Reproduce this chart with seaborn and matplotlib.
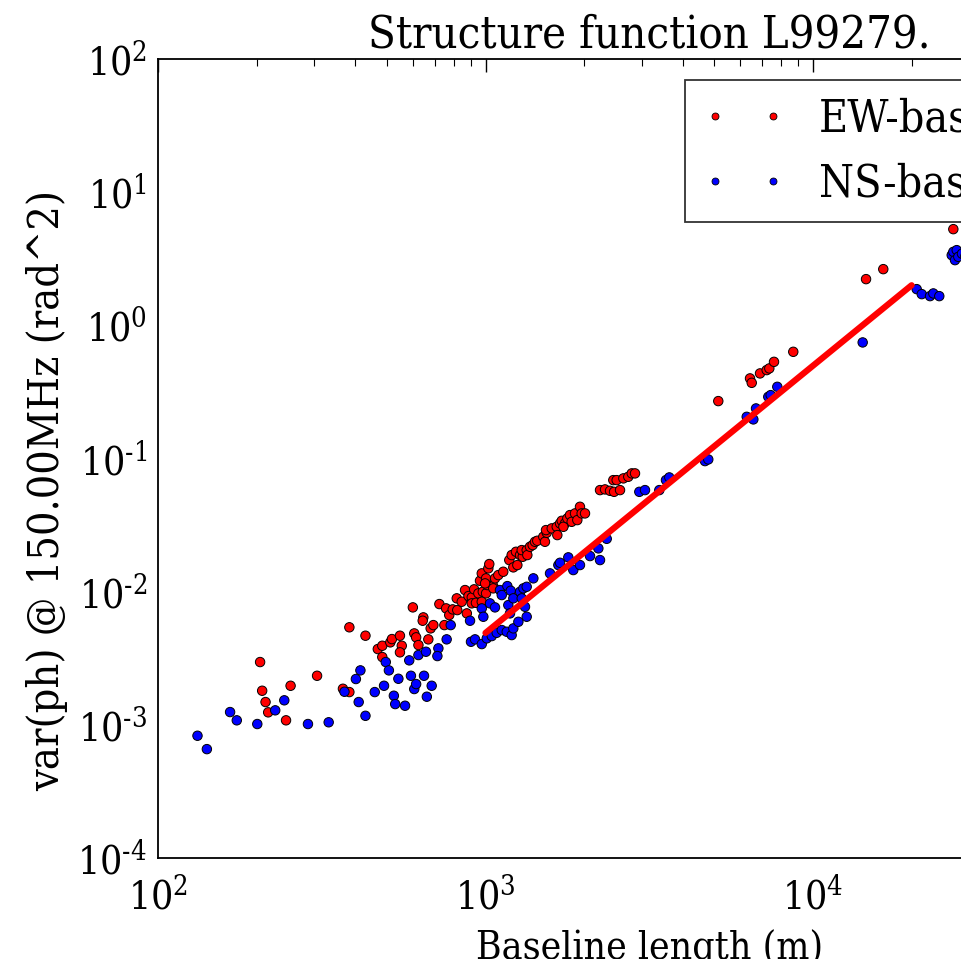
import numpy as np
import pandas as pd
import matplotlib
matplotlib.use("Agg")
import matplotlib.pyplot as plt
from matplotlib.lines import Line2D
from matplotlib.ticker import FuncFormatter
import seaborn as sns

# ---------------- data ----------------
ew_baseline = [205, 208, 213, 217, 246, 254, 306, 367, 384, 384, 430, 469, 484, 484,
               512, 518, 548, 555, 548, 600, 606, 614, 624, 646, 643, 669, 680, 693,
               749, 723, 758, 775, 794, 820, 817, 846, 866, 877, 887, 908, 923, 908,
               935, 951, 962, 974, 981, 1004, 1013, 1056, 974, 1004, 1020, 1027, 1056,
               1069, 1094, 1133, 997, 1182, 1202, 1216, 1251, 1239, 1275, 1299, 1290,
               1336, 1342, 1367, 1393, 1416, 1439, 1501, 1519, 1538, 1530, 1593, 1650,
               1657, 1689, 1709, 1749, 1729, 1778, 1811, 1833, 1876, 1907, 1943, 1966,
               2013, 2237, 2317, 2400, 2469, 2575, 2456, 2515, 2636, 2729, 2796, 2861,
               5138, 6422, 6500, 6890, 7220, 7356, 7602, 8705, 14520, 16390, 26820]
ew_var = [2.961e-3, 1.803e-3, 1.483e-3, 1.241e-3, 1.081e-3, 1.965e-3, 2.336e-3, 1.866e-3,
          1.762e-3, 5.40e-3, 4.67e-3, 3.707e-3, 3.925e-3, 3.228e-3, 4.162e-3, 4.406e-3,
          4.67e-3, 3.925e-3, 3.502e-3, 7.62e-3, 4.86e-3, 4.54e-3, 3.973e-3, 6.41e-3,
          6.05e-3, 4.384e-3, 5.30e-3, 5.61e-3, 5.61e-3, 8.07e-3, 7.49e-3, 6.67e-3,
          7.36e-3, 7.27e-3, 8.91e-3, 8.40e-3, 1.028e-2, 6.87e-3, 9.27e-3, 9.06e-3,
          1.041e-2, 8.17e-3, 8.25e-3, 9.71e-3, 1.207e-2, 8.40e-3, 9.98e-3, 9.71e-3,
          1.121e-2, 1.101e-2, 1.372e-2, 1.259e-2, 1.496e-2, 1.612e-2, 1.059e-2,
          1.259e-2, 1.332e-2, 1.411e-2, 1.154e-2, 1.727e-2, 1.883e-2, 1.522e-2,
          1.584e-2, 1.993e-2, 1.883e-2, 1.828e-2, 2.052e-2, 2.052e-2, 1.883e-2,
          2.173e-2, 2.238e-2, 2.369e-2, 2.411e-2, 2.584e-2, 2.369e-2, 2.768e-2,
          2.90e-2, 2.987e-2, 3.07e-2, 2.66e-2, 3.257e-2, 3.405e-2, 3.257e-2, 3.07e-2,
          3.55e-2, 3.759e-2, 3.347e-2, 3.87e-2, 3.447e-2, 4.34e-2, 3.87e-2, 3.87e-2,
          5.79e-2, 5.86e-2, 5.72e-2, 5.62e-2, 5.79e-2, 6.88e-2, 6.88e-2, 7.09e-2,
          7.29e-2, 7.73e-2, 7.73e-2, 0.2698, 0.3995, 0.3701, 0.4355, 0.4611, 0.4748,
          0.532, 0.6327, 2.223, 2.642, 5.275]

ns_baseline = [132, 141, 166, 174, 201, 228, 243, 287, 332, 371,
               402, 415, 410, 430, 459, 490, 496, 507, 525, 530,
               568, 542, 585, 592, 606, 614, 624, 649, 685, 662,
               658, 718, 713, 761, 783, 897, 903, 929, 974, 1009,
               1045, 1082, 1121, 1161, 1202, 1216, 1260, 974, 985, 1032,
               1069, 1107, 1121, 1166, 1194, 1174, 1216, 1275, 1305, 1336,
               1290, 1320, 1336, 1188, 1400, 1574, 1669, 1689, 1790, 1854,
               1943, 2085, 2211, 2237, 2345, 2949, 3069, 3394, 3557, 3641,
               4679, 4789, 6275, 6574, 6699, 7302, 7426, 7780, 14180, 20730,
               21480, 22770, 23300, 24300, 26520, 26820, 27470, 27140, 27780, 28500, 29200]
ns_var = [8.28e-4, 6.57e-4, 1.247e-3, 1.081e-3, 1.014e-3, 1.285e-3, 1.528e-3, 1.014e-3, 1.045e-3, 1.772e-3,
          2.208e-3, 2.564e-3, 1.483e-3, 1.169e-3, 1.762e-3, 1.965e-3, 2.961e-3, 2.564e-3, 1.654e-3, 1.432e-3,
          1.391e-3, 2.218e-3, 3.049e-3, 2.336e-3, 1.857e-3, 2.024e-3, 3.342e-3, 2.336e-3, 1.965e-3, 1.626e-3,
          3.539e-3, 3.752e-3, 3.284e-3, 4.384e-3, 5.61e-3, 6.05e-3, 4.205e-3, 4.384e-3, 4.04e-3, 4.46e-3,
          4.64e-3, 4.91e-3, 5.15e-3, 5.0e-3, 4.72e-3, 5.30e-3, 5.94e-3, 7.49e-3, 6.48e-3, 8.17e-3,
          7.62e-3, 1.028e-2, 9.43e-3, 1.101e-2, 1.016e-2, 7.93e-3, 8.91e-3, 9.98e-3, 1.059e-2, 1.088e-2,
          8.91e-3, 7.70e-3, 6.48e-3, 6.87e-3, 1.259e-2, 1.372e-2, 1.584e-2, 1.648e-2, 1.81e-2, 1.453e-2,
          1.584e-2, 1.851e-2, 2.114e-2, 1.727e-2, 2.494e-2, 5.62e-2, 5.79e-2, 5.79e-2, 6.88e-2, 7.21e-2,
          9.56e-2, 9.84e-2, 0.2056, 0.1966, 0.2377, 0.2905, 0.2992, 0.3454, 0.744, 1.870,
          1.715, 1.657, 1.736, 1.657, 3.365, 3.563, 3.670, 3.087, 3.268, 3.45, 3.30]

fit_baseline = [1000, 20000]
fit_var = [0.0049, 2.0]

series_labels = ["EW-baselines", "NS-baselines"]
series_colors = ["#ff0000", "#0000ff"]

title = "Structure function L99279."
xlabel = "Baseline length (m)"
ylabel = "var(ph) @ 150.00MHz (rad^2)"

# ---------------- style ----------------
sns.set_theme(style="white")
plt.rcParams.update({
    "font.family": ["DejaVu Serif"],
    "font.stretch": "condensed",
    "mathtext.fontset": "dejavuserif",
    "axes.unicode_minus": False,
    "axes.edgecolor": "black",
    "axes.linewidth": 1.3,
    "xtick.color": "black",
    "ytick.color": "black",
    "text.color": "black",
    "axes.labelcolor": "black",
})

df = pd.DataFrame({
    "baseline": ew_baseline + ns_baseline,
    "var": ew_var + ns_var,
    "orient": [series_labels[0]] * len(ew_baseline) + [series_labels[1]] * len(ns_baseline),
})

fig = plt.figure(figsize=(9.62, 9.59), dpi=100)
ax = fig.add_axes([158 / 962, 101 / 959, 982.5 / 962, 799 / 959])

sns.scatterplot(data=df, x="baseline", y="var", hue="orient",
                hue_order=series_labels, palette=series_colors,
                s=46, edgecolor="black", linewidth=0.7, legend=False, ax=ax, zorder=3)
sns.lineplot(x=fit_baseline, y=fit_var, color="#ff0000", linewidth=4.5, ax=ax, zorder=4)

ax.set_xscale("log")
ax.set_yscale("log")
ax.set_xlim(1e2, 1e5)
ax.set_ylim(1e-4, 1e2)


def decade_label(v, pos):
    e = int(round(np.log10(v)))
    return r"$\mathdefault{10^{\text{%d}}}$" % e


ax.xaxis.set_major_formatter(FuncFormatter(decade_label))
ax.yaxis.set_major_formatter(FuncFormatter(decade_label))

ax.tick_params(which="both", direction="in", top=True, right=True, labelsize=28)
ax.tick_params(axis="x", which="major", pad=14)
ax.tick_params(axis="y", which="major", pad=8)
ax.tick_params(which="major", length=9, width=1.0)
ax.tick_params(which="minor", length=5, width=0.8)

ax.set_title(title, fontsize=32.5, pad=8)
ax.set_xlabel(xlabel, fontsize=28, labelpad=9)
ax.set_ylabel(ylabel, fontsize=31)
ax.yaxis.set_label_coords(-0.0916, 0.4606)

handles = [Line2D([], [], linestyle="", marker="o", markersize=5,
                  markerfacecolor=c, markeredgecolor="black", markeredgewidth=0.6)
           for c in series_colors]
leg = ax.legend(handles, series_labels, loc="upper left",
                bbox_to_anchor=(685 / 962, 1 - 80 / 959), bbox_transform=fig.transFigure,
                numpoints=2, handlelength=1.9, handletextpad=0.74, borderpad=0.38,
                labelspacing=0.5, fontsize=32, fancybox=False, frameon=True,
                borderaxespad=0)
leg.get_frame().set_edgecolor("black")
leg.get_frame().set_linewidth(1.3)

fig.savefig("out.png", dpi=100, facecolor="white")
